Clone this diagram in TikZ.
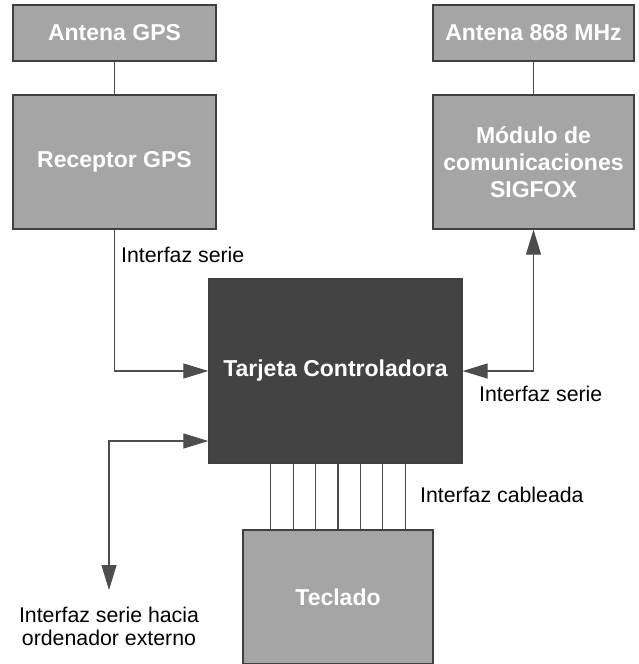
\documentclass[tikz,border=0pt]{standalone}
\usepackage{fontspec}
\setmainfont{Liberation Sans}
\usetikzlibrary{calc,positioning,arrows.meta}

\definecolor{boxgrey}{HTML}{A5A5A5}
\definecolor{boarddark}{HTML}{434343}
\definecolor{linegrey}{HTML}{4D4D4D}

\begin{document}
\begin{tikzpicture}[x=1pt,y=-1pt,>={Triangle[length=25pt,width=15pt]}]

\tikzset{greybox/.style={draw=black!75,fill=boxgrey,line width=1.3pt,text=white,
    font=\fontsize{23}{27}\selectfont\bfseries,align=center,inner sep=0},
darkbox/.style={greybox,fill=boarddark},
link/.style={draw=linegrey,line width=1.2pt},
linklabel/.style={font=\fontsize{21.3}{23}\selectfont,inner sep=0,align=center}}

\useasboundingbox (0,0) rectangle (638,664);

% GPS branch
\node (antGPS) [greybox,minimum width=203,minimum height=56] at (114.5,33) {Antena GPS};
\node (recGPS) [greybox,minimum width=203,minimum height=134] at (114.5,162) {Receptor GPS};

% SIGFOX branch
\node (ant868) [greybox,minimum width=201,minimum height=56] at (533.5,33) {Antena 868 MHz};
\node (sigfox) [greybox,minimum width=201,minimum height=134] at (533.5,162) {Módulo de\\comunicaciones\\SIGFOX};

% Controller and keypad
\node (ctrl) [darkbox,minimum width=253,minimum height=184] at (335.5,371) {Tarjeta Controladora};
\node (teclado) [greybox,minimum width=190,minimum height=134] at (338,597) {Teclado};

%% Edges
\draw[link] (antGPS) -- (recGPS);
\draw[link] (ant868) -- (sigfox);
\draw[link,->] (recGPS.south) |- (ctrl.west);
\draw[link,<->] (ctrl.east) -| (sigfox.south);

% Serial port to the external computer
\coordinate (pc) at (109,590);
\coordinate (pcin) at ($(ctrl.west)+(0,70)$);
\draw[link,<->] (pc) |- (pcin);

% Keypad wires
\foreach \i in {-3,...,3} {
  \coordinate (w\i) at ($(teclado.north)+(\i*22.4,0)$);
  \draw[link] (w\i) -- (w\i |- ctrl.south);
}

% Link labels
\node (lblGPS) [linklabel,anchor=west] at (121,255) {Interfaz serie};
\node (lblSig) [linklabel,anchor=west] at (479,394) {Interfaz serie};
\node (lblKey) [linklabel,anchor=west] at (420,495) {Interfaz cableada};
\node (lblPC) [linklabel] at (109,626) {Interfaz serie hacia\\ordenador externo};
\end{tikzpicture}
\end{document}
